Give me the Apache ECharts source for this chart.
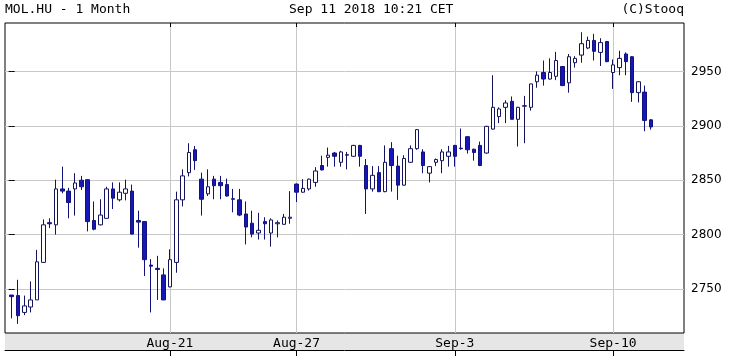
<!DOCTYPE html>
<html>
<head>
<meta charset="utf-8">
<script src="https://cdn.jsdelivr.net/npm/echarts@6/dist/echarts.min.js"></script>
<style>html,body{margin:0;padding:0;background:#fff;}#c{width:730px;height:356px;}</style>
</head>
<body>
<div id="c"></div>
<script>
// Trading days (5 candles per day)
var days = ['Aug-13','Aug-14','Aug-15','Aug-16','Aug-17','Aug-21','Aug-22','Aug-23','Aug-24',
            'Aug-27','Aug-28','Aug-29','Aug-30','Aug-31','Sep-3','Sep-4','Sep-5','Sep-6','Sep-7',
            'Sep-10','Sep-11'];
var candlesPerDay = 5;
var tickLabels = ['Aug-21','Aug-27','Sep-3','Sep-10'];
var priceTicks = [2750, 2800, 2850, 2900, 2950];

var openV = [2744.5,2744,2728.5,2733.5,2740,2774.5,2811,2809,2842,2840,
             2842,2850,2850.5,2813,2809,2815,2842,2832,2838,2840,
             2813,2812,2772,2769,2763,2752,2774.5,2832,2857,2878,
             2851,2837.5,2851,2848,2846,2833,2832,2819,2810.5,2801.5,
             2812,2801.5,2810,2809.5,2815,2846.5,2839,2842,2848,2863.5,
             2871,2875,2866.5,2873,2872,2882,2863.5,2842,2857,2839.5,
             2879,2863,2845.5,2866.5,2879,2876,2856.5,2866.5,2868,2872,
             2882,2879.5,2890,2878.5,2882,2875,2897,2908.5,2917,2922.5,
             2906,2918,2917,2940.5,2949,2943,2945.5,2954.5,2939.5,2958,
             2965,2971.5,2978.5,2967.5,2977.5,2949,2953.5,2966,2963.5,2930.5,
             2931,2905.5];
var closeV = [2743,2725.5,2734.5,2740,2775,2809,2810,2842,2840,2829.5,
              2847.5,2844,2812,2805,2818,2842,2833.5,2839,2842,2800.5,
              2811.5,2777,2771,2768,2740,2777,2832,2854,2875.5,2868,
              2832.5,2844,2845,2845,2835.5,2832.5,2818,2807,2800.5,2804,
              2810,2813.5,2811,2816,2816,2839,2842.5,2851,2858.5,2859.5,
              2873,2872,2876,2873.5,2882,2872,2842,2854.5,2839.5,2866.5,
              2863.5,2845.5,2870,2879,2896.5,2863.5,2862.5,2869,2876,2876,
              2872,2879,2878,2875.5,2863.5,2899.5,2917,2915.5,2921,2906,
              2917,2918.5,2938.5,2946.5,2943,2949,2960,2937,2963.5,2962,
              2975.5,2978.5,2968.5,2976.5,2959,2956,2962,2959,2930.5,2940.5,
              2905,2899];
var lowV = [2723,2718,2726,2728.5,2740,2774,2806,2800,2838,2815,
            2817.5,2841,2803,2804,2808.5,2815,2823.5,2830.5,2831.5,2800,
            2788,2762,2728.5,2740,2740,2751.5,2765,2826,2853.5,2859.5,
            2817.5,2835.5,2832.5,2832.5,2835,2820.5,2817,2791,2797.5,2795.5,
            2795.5,2789,2797.5,2809,2810,2830,2838.5,2840.5,2844,2859,
            2862.5,2862.5,2862.5,2860,2871.5,2862.5,2819,2839.5,2839,2839,
            2839.5,2832,2845,2866,2878,2856.5,2848,2863,2856.5,2862.5,
            2862.5,2878,2874.5,2868,2863,2874.5,2896.5,2902.5,2902.5,2906,
            2881,2884,2914,2935,2937,2942.5,2942,2936.5,2930.5,2953.5,
            2958,2970.5,2960,2955,2958.5,2934,2946.5,2946.5,2922,2921.5,
            2895,2896.5];
var highV = [2744.5,2758.5,2744,2757,2786,2814,2815,2850.5,2862.5,2843,
             2856.5,2854,2851,2830.5,2832.5,2844,2848,2848,2850.5,2846,
             2822,2812,2777.5,2780.5,2769,2786.5,2839.5,2860,2884,2881.5,
             2857,2860,2854,2854,2851.5,2842,2842,2830.5,2822,2820,
             2816,2815,2813,2819,2840,2847,2851,2851.5,2862,2872.5,
             2880,2876,2877,2876,2882.5,2882.5,2869.5,2863,2863,2882,
             2885,2872.5,2873,2882,2897,2878.5,2863,2870,2878.5,2881.5,
             2882.5,2897.5,2890.5,2879,2885.5,2900,2946.5,2917,2923.5,2927,
             2917.5,2927.5,2938.5,2950,2960,2962,2968,2955,2966,2964,
             2986,2982,2984.5,2980.5,2978,2961,2969,2967.5,2964,2941,
             2937,2906];

var candles = openV.map(function (o, i) {
  return [i, o, closeV[i], lowV[i], highV[i]];
});
var tickPos = tickLabels.map(function (d) { return days.indexOf(d) * candlesPerDay; });
function dayOf(i) { return days[Math.floor(i / candlesPerDay)]; }

var chart = echarts.init(document.getElementById('c'), null, {renderer: 'canvas'});
var XMIN = -1.05, XMAX = 106.2, YMIN = 2709.6, YMAX = 2994.5;
var mono = 'DejaVu Sans Mono';
chart.setOption({
  animation: false,
  backgroundColor: '#ffffff',
  grid: {left: 5, top: 23, width: 679, height: 310, show: true, borderColor: '#000', borderWidth: 1, backgroundColor: 'transparent'},
  graphic: [
    {type: 'rect', z: -10, shape: {x: 5, y: 333, width: 679, height: 17}, style: {fill: '#e6e6e6', stroke: null}},
    {type: 'text', x: 5, y: 10, style: {text: 'MOL.HU - 1 Month', font: '13px "DejaVu Sans Mono"', fill: '#000', textVerticalAlign: 'middle'}},
    {type: 'text', x: 289, y: 10, style: {text: 'Sep 11 2018 10:21 CET', font: '13px "DejaVu Sans Mono"', fill: '#000', textVerticalAlign: 'middle'}},
    {type: 'text', x: 684, y: 10, style: {text: '(C)Stooq', font: '13px "DejaVu Sans Mono"', fill: '#000', textAlign: 'right', textVerticalAlign: 'middle'}}
  ],
  xAxis: [
    {type: 'value', position: 'bottom', min: XMIN, max: XMAX,
     axisLine: {show: false},
     axisTick: {show: false, customValues: tickPos},
     splitLine: {show: true, lineStyle: {color: '#c8c8c8', width: 1}},
     axisLabel: {show: true, customValues: tickPos, margin: 4, fontFamily: mono, fontSize: 13, color: '#000',
                 formatter: function (v) { return dayOf(Math.round(v)); }}},
    {type: 'value', position: 'bottom', offset: 17, min: XMIN, max: XMAX,
     axisLine: {show: true, onZero: false, lineStyle: {color: '#000', width: 1}},
     axisTick: {show: true, customValues: tickPos, length: 6, lineStyle: {color: '#000'}},
     splitLine: {show: false}, axisLabel: {show: false}},
    {type: 'value', position: 'top', min: XMIN, max: XMAX,
     axisLine: {show: false},
     axisTick: {show: true, inside: true, customValues: tickPos, length: 4, lineStyle: {color: '#000'}},
     splitLine: {show: false}, axisLabel: {show: false}}
  ],
  yAxis: [
    {type: 'value', position: 'right', min: YMIN, max: YMAX,
     axisLine: {show: false},
     axisTick: {show: true, inside: true, length: 3, customValues: priceTicks, lineStyle: {color: '#000'}},
     splitLine: {show: true, lineStyle: {color: '#c8c8c8', width: 1}},
     axisLabel: {show: true, customValues: priceTicks, margin: 7, fontFamily: 'DejaVu Sans', fontSize: 12, color: '#000',
                 formatter: function (v) { return String(Math.round(v)); }}},
    {type: 'value', position: 'left', min: YMIN, max: YMAX,
     axisLine: {show: false},
     axisTick: {show: true, inside: true, length: 3, customValues: priceTicks, lineStyle: {color: '#000'}},
     splitLine: {show: false}, axisLabel: {show: false}}
  ],
  series: [{
    type: 'candlestick',
    xAxisIndex: 0, yAxisIndex: 0,
    data: candles,
    encode: {x: 0, y: [1, 2, 3, 4]},
    barWidth: 4,
    itemStyle: {color: '#ffffff', color0: '#1717b8', borderColor: '#14145c', borderColor0: '#12127e', borderWidth: 1}
  }]
});
</script>
</body>
</html>
